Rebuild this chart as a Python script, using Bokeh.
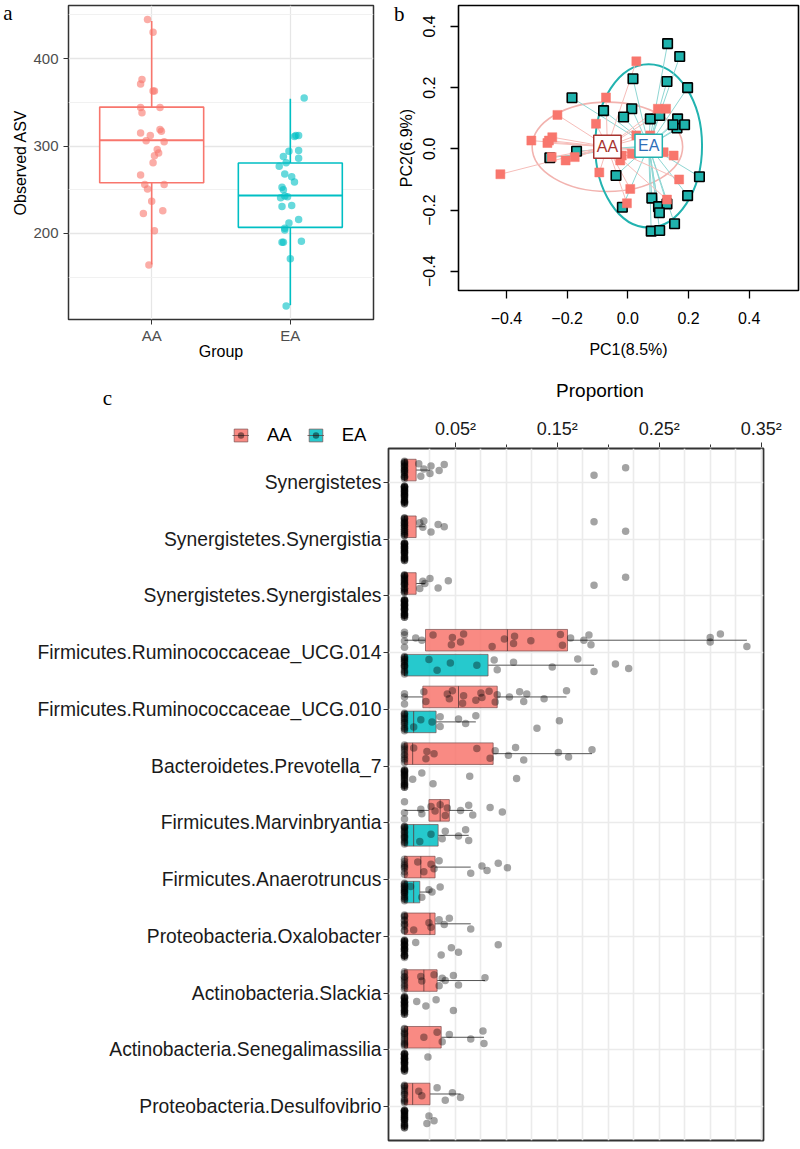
import numpy as np
from bokeh.plotting import figure
from bokeh.layouts import column, row
from bokeh.models import FixedTicker, Label, Legend, LegendItem, Range1d, ColumnDataSource, LinearAxis
from bokeh.embed import file_html
from bokeh.resources import INLINE

SANS = "Liberation Sans"
SERIF = "Liberation Serif"
AA_COL = "#F8766D"
EA_COL = "#00BFC4"

# ---------------- Panel a: Observed ASV ----------------
groups = ["AA", "EA"]
asv_q1 = [258, 207]
asv_median = [306.5, 243.5]
asv_q3 = [344.5, 280.5]
asv_low = [164.5, 118]
asv_high = [443, 354]
asv_aa = [444.6, 430, 376, 371, 363, 363, 344, 344, 338, 315, 319, 317, 312, 306,
          305, 296, 292, 289, 281, 267, 256, 256, 251, 237, 223, 226, 203, 164]
asv_aa_jitter = [-0.03, 0.01, -0.07, -0.08, 0.01, 0.02, -0.08, 0.06, -0.07, -0.08, 0.06, 0.07, -0.01, -0.04,
                 0.09, 0.04, 0.05, 0.02, 0.01, -0.08, -0.05, 0.09, -0.03, 0.0, -0.06, 0.08, 0.02, -0.02]
asv_ea = [355, 312, 312, 311, 295, 294, 288, 286, 281, 277, 268, 265, 259, 253, 250, 243, 242, 241,
          231, 232, 212, 216, 206, 204, 190, 190, 191, 171, 117]
asv_ea_jitter = [0.10, 0.04, 0.06, 0.03, 0.06, -0.01, -0.05, 0.06, -0.03, -0.08, -0.04, 0.01, 0.03, -0.06,
                 -0.05, -0.04, -0.02, -0.07, -0.06, 0.01, -0.01, 0.06, -0.04, -0.04, -0.05, -0.06, 0.08, 0.0, -0.03]

# ---------------- Panel b: PCoA ----------------
pc1_aa = [-0.42, -0.318, -0.265, -0.26, -0.249, -0.251, -0.232, -0.205, -0.175, -0.105, -0.094, -0.072, -0.025,
          -0.02, -0.003, 0.008, 0.028, 0.028, 0.013, 0.074, 0.099, 0.126, 0.118, 0.129, 0.151, 0.169]
pc2_aa = [-0.083, 0.027, 0.019, 0.027, 0.038, -0.027, 0.111, -0.038, -0.027, 0.082, -0.077, 0.168, -0.038,
          -0.022, -0.178, -0.131, 0.286, 0.044, -0.016, 0.044, 0.131, 0.131, -0.011, -0.166, -0.022, -0.100]
pc1_ea = [0.131, 0.171, 0.017, 0.129, 0.197, -0.184, -0.080, 0.013, -0.014, 0.074, 0.105, 0.162, 0.164, 0.187,
          0.149, -0.169, -0.257, -0.039, 0.236, 0.197, -0.018, 0.079, 0.101, 0.129, 0.104, 0.154, 0.077, 0.105]
pc2_ea = [0.344, 0.302, 0.229, 0.220, 0.200, 0.167, 0.125, 0.131, 0.104, 0.098, 0.109, 0.068, 0.098, 0.079,
          0.079, -0.008, -0.029, -0.087, -0.091, -0.153, -0.191, -0.161, -0.189, -0.180, -0.209, -0.245, -0.269, -0.267]
ellipse_width = [0.496, 0.352]    # AA, EA (PC1 extent)
ellipse_height = [0.292, 0.534]   # AA, EA (PC2 extent)
pc_ticks = [-0.4, -0.2, 0.0, 0.2, 0.4]
pc_tick_labels = ["\u22120.4", "\u22120.2", "0.0", "0.2", "0.4"]

# ---------------- Panel c: proportions (sqrt scale) ----------------
taxa = ["Synergistetes", "Synergistetes.Synergistia", "Synergistetes.Synergistales",
        "Firmicutes.Ruminococcaceae_UCG.014", "Firmicutes.Ruminococcaceae_UCG.010",
        "Bacteroidetes.Prevotella_7", "Firmicutes.Marvinbryantia", "Firmicutes.Anaerotruncus",
        "Proteobacteria.Oxalobacter", "Actinobacteria.Slackia", "Actinobacteria.Senegalimassilia",
        "Proteobacteria.Desulfovibrio"]
aa_q1 = [0, 0, 0, 0.0206, 0.018, 0, 0.024, 0, 0, 0, 0, 0]
aa_med = [0, 0, 0, 0.101, 0.053, 0.008, 0.035, 0.016, 0.025, 0.019, 0.003, 0.008]
aa_q3 = [0.0114, 0.0114, 0.0114, 0.160, 0.091, 0.087, 0.044, 0.030, 0.030, 0.032, 0.036, 0.025]
aa_lo = [0, 0, 0, 0, 0, 0, 0, 0, 0, 0, 0, 0]
aa_hi = [0.025, 0.020, 0.020, 0.336, 0.159, 0.184, 0.067, 0.065, 0.065, 0.079, 0.078, 0.055]
ea_q1 = [0, 0, 0, 0, 0, 0, 0, 0, 0, 0, 0, 0]
ea_med = [0, 0, 0, 0, 0.009, 0, 0.009, 0.009, 0, 0, 0, 0]
ea_q3 = [0, 0, 0, 0.082, 0.031, 0, 0.033, 0.015, 0, 0, 0, 0]
ea_lo = [0, 0, 0, 0, 0, 0, 0, 0, 0, 0, 0, 0]
ea_hi = [0, 0, 0, 0.186, 0.070, 0, 0.063, 0.025, 0, 0, 0, 0]
aa_points = [
    [0.014, 0.016, 0.019, 0.025, 0.026, 0.034, 0.039, 0.186, 0.217],
    [0.015, 0.018, 0.019, 0.026, 0.033, 0.039, 0.186, 0.217],
    [0.015, 0.018, 0.020, 0.025, 0.033, 0.043, 0.186, 0.217],
    [0.011, 0.017, 0.028, 0.046, 0.047, 0.055, 0.058, 0.086, 0.098, 0.107, 0.108, 0.124, 0.153, 0.155,
     0.163, 0.176, 0.181, 0.183, 0.300, 0.300, 0.310, 0.336],
    [0.019, 0.021, 0.042, 0.044, 0.047, 0.057, 0.058, 0.070, 0.075, 0.076, 0.083, 0.089, 0.091, 0.103,
     0.113, 0.117, 0.120, 0.137, 0.159],
    [0.009, 0.021, 0.022, 0.029, 0.071, 0.084, 0.089, 0.102, 0.109, 0.117, 0.151, 0.161, 0.184],
    [0.016, 0.017, 0.026, 0.030, 0.035, 0.040, 0.042, 0.055, 0.063, 0.067, 0.084, 0.096],
    [0.013, 0.019, 0.026, 0.029, 0.034, 0.065, 0.076, 0.081, 0.092, 0.101],
    [0.009, 0.024, 0.026, 0.034, 0.039, 0.044, 0.065],
    [0.016, 0.017, 0.029, 0.034, 0.037, 0.040, 0.048, 0.053, 0.079],
    [0.019, 0.032, 0.037, 0.044, 0.065, 0.077, 0.078],
    [0.014, 0.017, 0.032, 0.040, 0.047, 0.055],
]
aa_zeros = [19, 20, 20, 4, 3, 10, 3, 8, 10, 10, 12, 12]
ea_points = [
    [], [], [],
    [0.024, 0.032, 0.045, 0.071, 0.088, 0.091, 0.107, 0.145, 0.170, 0.186, 0.207, 0.220],
    [0.009, 0.016, 0.027, 0.035, 0.035, 0.053, 0.060, 0.070, 0.130, 0.152],
    [0.008, 0.017, 0.028, 0.064, 0.110],
    [0.015, 0.026, 0.037, 0.040, 0.053, 0.060, 0.063],
    [0.006, 0.017, 0.024, 0.027, 0.035],
    [0.011, 0.036, 0.046, 0.053, 0.092],
    [0.012, 0.021, 0.031, 0.048],
    [0.023],
    [0.022, 0.024, 0.029],
]
ea_zeros = [28, 28, 28, 16, 14, 23, 16, 18, 23, 24, 27, 25]
prop_ticks = [0.05, 0.15, 0.25, 0.35]
prop_tick_labels = ["0.05\u00b2", "0.15\u00b2", "0.25\u00b2", "0.35\u00b2"]


def style_axis(ax, label_size, title_size, label_color="#4D4D4D"):
    ax.axis_line_color = None
    ax.major_tick_line_color = "#333333"
    ax.minor_tick_line_color = "#333333"
    ax.major_tick_in = 0
    ax.minor_tick_in = 0
    ax.minor_tick_out = 0
    ax.major_label_text_font = SANS
    ax.major_label_text_font_size = label_size
    ax.major_label_text_color = label_color
    ax.axis_label_text_font = SANS
    ax.axis_label_text_font_size = title_size
    ax.axis_label_text_font_style = "normal"
    ax.axis_label_text_color = "#000000"


def panel_tag(text, tick, standoff):
    # a one-tick axis whose only label is the panel letter
    return LinearAxis(ticker=FixedTicker(ticks=[tick]), major_label_overrides={tick: text},
                      axis_line_color=None, major_tick_line_color=None, minor_tick_line_color=None,
                      major_tick_out=0, major_tick_in=0, minor_tick_out=0, minor_tick_in=0,
                      major_label_standoff=standoff, major_label_text_font=SERIF,
                      major_label_text_font_size="21px", major_label_text_color="#000000")


H1 = 360

# ================= Panel a =================
fa = figure(frame_width=305, frame_height=314, x_range=Range1d(0.4, 2.6), y_range=Range1d(101.7, 460.6),
            min_border_left=68, min_border_right=6, min_border_top=5, min_border_bottom=H1 - 5 - 314,
            output_backend="svg", toolbar_location=None)
fa.frame_align = False
fa.outline_line_color = "#333333"
fa.outline_line_width = 1.5
fa.xaxis.ticker = FixedTicker(ticks=[1, 2])
fa.xaxis.major_label_overrides = {1: "AA", 2: "EA"}
fa.xaxis.axis_label = "Group"
fa.yaxis.ticker = FixedTicker(ticks=[200, 300, 400], minor_ticks=[150, 250, 350, 450])
fa.yaxis.axis_label = "Observed ASV"
for ax in (fa.xaxis[0], fa.yaxis[0]):
    style_axis(ax, "15px", "16px")
    ax.major_tick_out = 5
fa.xaxis.major_label_standoff = 2
fa.xaxis.axis_label_standoff = -4
fa.yaxis.major_label_standoff = 5
fa.yaxis.axis_label_standoff = 1
fa.xgrid.ticker = FixedTicker(ticks=[1, 2])
fa.ygrid.ticker = FixedTicker(ticks=[200, 300, 400], minor_ticks=[150, 250, 350, 450])
for g in (fa.xgrid[0], fa.ygrid[0]):
    g.grid_line_color = "#E6E6E6"
    g.grid_line_width = 1.3
fa.ygrid.minor_grid_line_color = "#EFEFEF"
fa.ygrid.minor_grid_line_width = 0.9
fa.add_layout(panel_tag("a", 452, -3), "left")

xs = np.arange(1, len(groups) + 1)
box_src = ColumnDataSource(dict(x=xs, left=xs - 0.375, right=xs + 0.375, q1=asv_q1, q3=asv_q3,
                                med=asv_median, lo=asv_low, hi=asv_high, col=[AA_COL, EA_COL]))
fa.segment(x0="x", y0="lo", x1="x", y1="q1", line_color="col", line_width=1.6, source=box_src)
fa.segment(x0="x", y0="q3", x1="x", y1="hi", line_color="col", line_width=1.6, source=box_src)
fa.quad(left="left", right="right", bottom="q1", top="q3", fill_color="white", line_color="col",
        line_width=1.6, source=box_src)
fa.segment(x0="left", y0="med", x1="right", y1="med", line_color="col", line_width=2, source=box_src)
fa.scatter(x=1 + np.array(asv_aa_jitter), y=asv_aa, size=7.5, fill_color=AA_COL, fill_alpha=0.6, line_color=None)
fa.scatter(x=2 + np.array(asv_ea_jitter), y=asv_ea, size=7.5, fill_color=EA_COL, fill_alpha=0.6, line_color=None)

# ================= Panel b =================
fb = figure(frame_width=340, frame_height=285, x_range=Range1d(-0.558, 0.5624), y_range=Range1d(-0.4631, 0.4686),
            min_border_left=79, min_border_right=2, min_border_top=5, min_border_bottom=H1 - 5 - 285,
            output_backend="svg", toolbar_location=None)
fb.frame_align = False
fb.outline_line_color = "#000000"
fb.outline_line_width = 1.6
fb.grid.visible = False
for ax in (fb.xaxis[0], fb.yaxis[0]):
    style_axis(ax, "16px", "16px", label_color="#000000")
    ax.ticker = FixedTicker(ticks=pc_ticks)
    ax.major_label_overrides = dict(zip(pc_ticks, pc_tick_labels))
    ax.major_tick_out = 8
    ax.major_tick_line_color = "#000000"
    ax.major_tick_line_width = 1.3
fb.xaxis.axis_label = "PC1(8.5%)"
fb.yaxis.axis_label = "PC2(6.9%)"
fb.yaxis.major_label_orientation = "vertical"
fb.xaxis.major_label_standoff = 13
fb.xaxis.axis_label_standoff = 14
fb.yaxis.major_label_standoff = 15
fb.yaxis.axis_label_standoff = 6
fb.add_layout(panel_tag("b", 0.44, -10), "left")

cx_aa, cy_aa = float(np.mean(pc1_aa)), float(np.mean(pc2_aa))
cx_ea, cy_ea = float(np.mean(pc1_ea)), float(np.mean(pc2_ea))
fb.ellipse(x=[cx_aa], y=[cy_aa], width=ellipse_width[0], height=ellipse_height[0], fill_color=None,
           line_color="#F2B3AF", line_width=1.6)
fb.ellipse(x=[cx_ea], y=[cy_ea], width=ellipse_width[1], height=ellipse_height[1], fill_color=None,
           line_color="#22B3B0", line_width=2)
fb.segment(x0=[cx_ea] * len(pc1_ea), y0=[cy_ea] * len(pc1_ea), x1=pc1_ea, y1=pc2_ea,
           line_color="#8FD6D3", line_width=1)
fb.segment(x0=[cx_aa] * len(pc1_aa), y0=[cy_aa] * len(pc1_aa), x1=pc1_aa, y1=pc2_aa,
           line_color="#F6BDB9", line_width=1)
fb.scatter(x=pc1_ea, y=pc2_ea, marker="square", size=9.5, fill_color="#1FB3AD", line_color="#000000",
           line_width=1.6)
fb.scatter(x=pc1_aa, y=pc2_aa, marker="square", size=9, fill_color="#F8766D", line_color="#F8766D",
           line_width=0.5)
fb.add_layout(Label(x=cx_aa, y=cy_aa, text="AA", text_font=SANS, text_font_size="16px", text_color="#A8332F",
                    text_align="center", text_baseline="middle", border_line_color="#A8332F",
                    border_line_width=1.5, background_fill_color="white", padding=3))
fb.add_layout(Label(x=cx_ea, y=cy_ea, text="EA", text_font=SANS, text_font_size="16px", text_color="#2E6FB8",
                    text_align="center", text_baseline="middle", border_line_color="#22B3B0",
                    border_line_width=1.5, background_fill_color="white", padding=3))

# ================= Panel c =================
C_LEFT, C_FRAME_W, C_RIGHT = 388, 375, 37
x0c, x1c = -0.0157, 0.3523          # sqrt-proportion range of panel c's frame
px_per_unit = C_FRAME_W / (x1c - x0c)
STRIP_H = 85

# header strip of panel c: top axis (Proportion), panel tag and legend
fs = figure(frame_width=800, frame_height=STRIP_H,
            x_range=Range1d(x0c - C_LEFT / px_per_unit, x1c + C_RIGHT / px_per_unit),
            y_range=Range1d(0, STRIP_H), x_axis_location=None, y_axis_location=None,
            min_border_left=0, min_border_right=0, min_border_top=0, min_border_bottom=0,
            output_backend="svg", toolbar_location=None)
fs.frame_align = False
fs.outline_line_color = None
fs.grid.visible = False
top_axis = LinearAxis(fixed_location=0, bounds=(x0c, x1c),
                      ticker=FixedTicker(ticks=prop_ticks, minor_ticks=[0.1, 0.2, 0.3]),
                      major_label_overrides=dict(zip(prop_ticks, prop_tick_labels)))
style_axis(top_axis, "18px", "19px", label_color="#1A1A1A")
top_axis.major_tick_out = 5
top_axis.minor_tick_out = 3
top_axis.major_label_standoff = 4
fs.add_layout(top_axis, "above")
fs.add_layout(Label(x=(x0c + x1c) / 2 + 0.0235, y=STRIP_H - 28, text="Proportion", text_font=SANS,
                    text_font_size="19px", text_color="#000000", text_align="center", text_baseline="middle"))
fs.add_layout(Label(x=x0c - 281 / px_per_unit, y=STRIP_H - 35, text="c", text_font=SERIF,
                    text_font_size="21px", text_color="#000000", text_align="center", text_baseline="middle"))
leg_items = []
for name, col in (("AA", AA_COL), ("EA", EA_COL)):
    # legend keys only: one undefined (NaN) point each, so nothing is drawn in the strip itself
    r1 = fs.quad(left=[np.nan], right=[np.nan], bottom=[np.nan], top=[np.nan], fill_color=col,
                 fill_alpha=0.85, line_color="#7A4E4E", line_alpha=0.7)
    r2 = fs.line(x=[np.nan], y=[np.nan], line_color="#5A3A3A", line_width=1, line_alpha=0.7)
    r3 = fs.scatter(x=[np.nan], y=[np.nan], size=5, fill_color="#000000", fill_alpha=0.45, line_color=None)
    leg_items.append(LegendItem(label=name, renderers=[r1, r2, r3]))
fs.add_layout(Legend(items=leg_items, location=(232, 1), orientation="horizontal", padding=0, margin=0,
                     spacing=15, glyph_width=17, glyph_height=16, label_height=16, label_standoff=18,
                     label_text_font=SANS, label_text_font_size="18.5px", label_text_color="#000000",
                     border_line_color=None, background_fill_alpha=0))

fc = figure(frame_width=C_FRAME_W, frame_height=692, x_range=Range1d(x0c, x1c), y_range=Range1d(0.4, 12.6),
            x_axis_location=None, min_border_left=C_LEFT, min_border_right=C_RIGHT, min_border_top=1,
            min_border_bottom=3, output_backend="svg", toolbar_location=None)
fc.frame_align = False
fc.outline_line_color = "#333333"
fc.outline_line_width = 1.8
ypos = np.arange(len(taxa), 0, -1)
fc.yaxis.ticker = FixedTicker(ticks=list(ypos))
fc.yaxis.major_label_overrides = {int(y): t for y, t in zip(ypos, taxa)}
style_axis(fc.yaxis[0], "19.3px", "19px", label_color="#1A1A1A")
fc.yaxis.major_tick_out = 5
fc.yaxis.major_label_standoff = 2
fc.xgrid.ticker = FixedTicker(ticks=[0.025 * k for k in range(1, 15)])
fc.ygrid.ticker = FixedTicker(ticks=list(ypos))
for g in (fc.xgrid[0], fc.ygrid[0]):
    g.grid_line_color = "#EBEBEB"
    g.grid_line_width = 1.6

OFF, HALF = 0.22, 0.19
for q1, med, q3, lo, hi, sign, col in ((aa_q1, aa_med, aa_q3, aa_lo, aa_hi, 1, AA_COL),
                                       (ea_q1, ea_med, ea_q3, ea_lo, ea_hi, -1, EA_COL)):
    yc = ypos + sign * OFF
    src = ColumnDataSource(dict(y=yc, b=yc - HALF, t=yc + HALF, q1=q1, med=med, q3=q3, lo=lo, hi=hi))
    fc.segment(x0="lo", y0="y", x1="q1", y1="y", line_color="#555555", line_width=1, source=src)
    fc.segment(x0="q3", y0="y", x1="hi", y1="y", line_color="#555555", line_width=1, source=src)
    fc.quad(left="q1", right="q3", bottom="b", top="t", fill_color=col, fill_alpha=0.85,
            line_color="#7A4E4E", line_alpha=0.8, line_width=0.9, source=src)
    fc.segment(x0="med", y0="b", x1="med", y1="t", line_color="#5A3A3A", line_alpha=0.8, line_width=1, source=src)

jit = np.array([0.0, 0.09, -0.08, 0.05, -0.03, 0.11, -0.11, 0.02, -0.06, 0.07, -0.01, 0.10, -0.09, 0.04])
px, py = [], []
for pts, zeros, sign in ((aa_points, aa_zeros, 1), (ea_points, ea_zeros, -1)):
    for k, (vals, nz) in enumerate(zip(pts, zeros)):
        yc = ypos[k] + sign * OFF
        allv = [0.0] * nz + list(vals)
        for i, v in enumerate(allv):
            px.append(v)
            py.append(yc + jit[(i + 3 * k) % len(jit)] * (1.4 if v == 0 else 1.0))
fc.scatter(x=px, y=py, size=7.5, fill_color="#000000", fill_alpha=0.36, line_color=None)

layout = column(row(fa, fb), fs, fc)
open("out.html", "w").write(file_html(layout, INLINE))
